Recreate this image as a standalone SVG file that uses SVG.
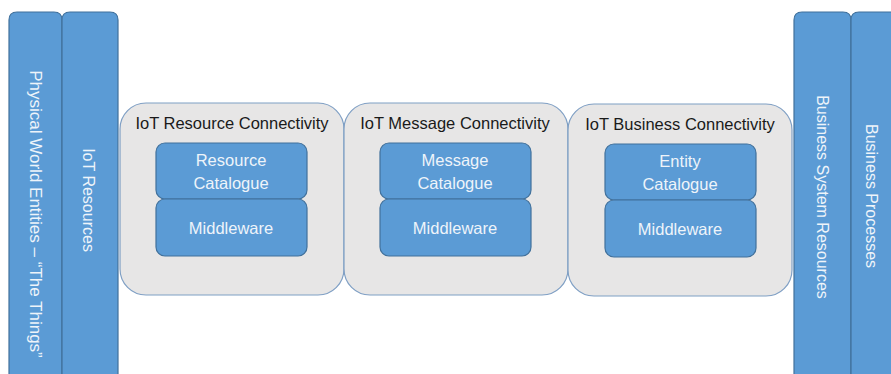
<svg xmlns="http://www.w3.org/2000/svg" width="891" height="374" viewBox="0 0 891 374">
<style>
.bar{fill:#5B9BD5;stroke:#41719C;stroke-width:1.2}
.cont{fill:#E7E6E6;stroke:#7F9FC4;stroke-width:1.2}
.inner{fill:#5B9BD5;stroke:#41719C;stroke-width:1.2}
.wt{fill:#EEF4FA;font-family:"Liberation Sans",Arial,sans-serif;font-size:16.5px;text-anchor:middle}
.vt{fill:#EEF4FA;font-family:"Liberation Sans",Arial,sans-serif;font-size:16px;text-anchor:middle}
.bt{fill:#1a1a1a;font-family:"Liberation Sans",Arial,sans-serif;font-size:16.5px;text-anchor:middle}
</style>
<rect width="891" height="374" fill="#ffffff"/>
<g id="physical">
<path class="bar" d="M9,380 V20 Q9,12 17,12 H54 Q62,12 62,20 V380 Z"/>
<text class="vt" transform="translate(30,214) rotate(90)" style="font-size:17px">Physical World Entities – “The Things”</text>
</g>
<g id="iot-resources">
<path class="bar" d="M62,380 V20 Q62,12 70,12 H110 Q118,12 118,20 V380 Z"/>
<text class="vt" transform="translate(83,200) rotate(90)">IoT Resources</text>
</g>
<g id="business-system">
<path class="bar" d="M794,380 V20 Q794,12 802,12 H843 Q851,12 851,20 V380 Z"/>
<text class="vt" transform="translate(817,197) rotate(90)">Business System Resources</text>
</g>
<g id="business-processes">
<path class="bar" d="M851,380 V20 Q851,12 859,12 H900 V380 Z"/>
<text class="vt" transform="translate(866,196) rotate(90)">Business Processes</text>
</g>
<g id="resource-connectivity">
<rect class="cont" x="120" y="103" width="224" height="192" rx="26"/>
<text class="bt" x="232" y="129">IoT Resource Connectivity</text>
</g>
<g id="resource-catalogue">
<rect class="inner" x="156" y="143" width="151" height="56" rx="9"/>
<text class="wt" x="231" y="166">Resource</text>
<text class="wt" x="231" y="189">Catalogue</text>
</g>
<g id="resource-middleware">
<rect class="inner" x="156" y="199" width="151" height="57" rx="9"/>
<text class="wt" x="231" y="234">Middleware</text>
</g>
<g id="message-connectivity">
<rect class="cont" x="344" y="103" width="224" height="192" rx="26"/>
<text class="bt" x="455" y="129">IoT Message Connectivity</text>
</g>
<g id="message-catalogue">
<rect class="inner" x="380" y="143" width="151" height="56" rx="9"/>
<text class="wt" x="455" y="166">Message</text>
<text class="wt" x="455" y="189">Catalogue</text>
</g>
<g id="message-middleware">
<rect class="inner" x="380" y="199" width="151" height="57" rx="9"/>
<text class="wt" x="455" y="234">Middleware</text>
</g>
<g id="business-connectivity">
<rect class="cont" x="568" y="104" width="224" height="192" rx="26"/>
<text class="bt" x="680" y="130">IoT Business Connectivity</text>
</g>
<g id="entity-catalogue">
<rect class="inner" x="605" y="144" width="151" height="56" rx="9"/>
<text class="wt" x="680" y="167">Entity</text>
<text class="wt" x="680" y="190">Catalogue</text>
</g>
<g id="business-middleware">
<rect class="inner" x="605" y="200" width="151" height="57" rx="9"/>
<text class="wt" x="680" y="235">Middleware</text>
</g>
<g id="connectors"></g>
</svg>
